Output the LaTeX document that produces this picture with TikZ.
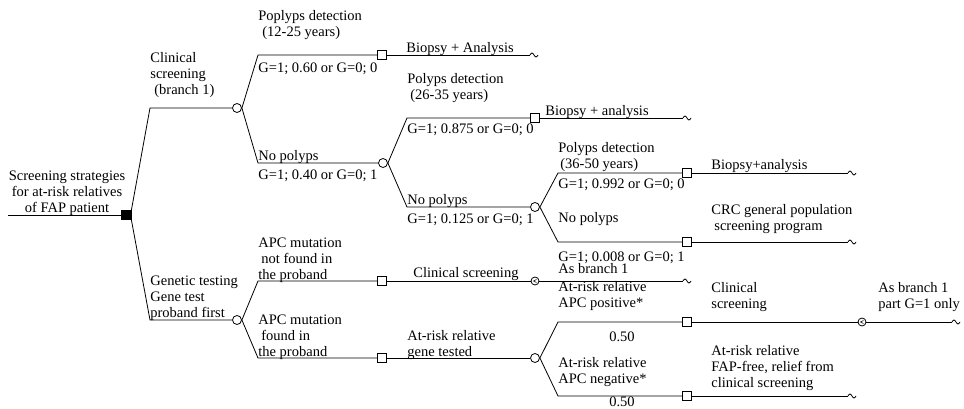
\documentclass[tikz,border=0pt]{standalone}
\usepackage{fontspec}
\setmainfont{Liberation Serif}
\newcommand\myst{\rule{0pt}{10.5pt}}
\begin{document}
\begin{tikzpicture}[x=1pt,y=-1pt, line width=0.8pt,
  lbl/.style={inner sep=0pt, font=\fontsize{14.5}{16}\selectfont, align=left, anchor=north west},
  chance/.style={circle, draw, fill=white, inner sep=0pt, minimum size=9pt},
  decis/.style={rectangle, draw, fill=white, inner sep=0pt, minimum size=9pt},
  rootsq/.style={rectangle, draw, fill=black, inner sep=0pt, minimum width=10pt, minimum height=9pt},
  term/.style={circle, draw, fill=white, inner sep=0pt, minimum size=8pt}]
\useasboundingbox (0,0) rectangle (964,409);
\newcommand\tld[1]{\draw (#1) sin ++(2,-2) cos ++(2,2) sin ++(2,2) cos ++(2,-2);}

% ---------- nodes ----------
\coordinate (start) at (8,215);
\node[rootsq] (root) at (126,215) {};
\coordinate (k1) at (150,108);
\coordinate (k2) at (150,320);
\node[chance] (c1) at (237,108) {};
\coordinate (k11) at (258,55);
\coordinate (k12) at (258,163);
\node[decis] (s1) at (382,55) {};
\coordinate (e1) at (530,55);
\node[chance] (c2) at (383,163) {};
\coordinate (k21) at (407,118);
\coordinate (k22) at (407,207);
\node[decis] (s2) at (535,118) {};
\coordinate (e2) at (683,118);
\node[chance] (c3) at (535,207) {};
\coordinate (k31) at (558,173);
\coordinate (k32) at (558,242);
\node[decis] (s3) at (687,173) {};
\coordinate (e3) at (848,173);
\node[decis] (s4) at (687,242) {};
\coordinate (e4) at (848,242);

\node[chance] (g1) at (237,320) {};
\coordinate (k41) at (258,281);
\coordinate (k42) at (258,358);
\node[decis] (s5) at (382,281) {};
\node[term] (t1) at (535,281) {};
\coordinate (e5) at (683,281);
\node[decis] (s6) at (382,358) {};
\node[chance] (c4) at (535,358) {};
\coordinate (k51) at (558,322);
\coordinate (k52) at (558,396);
\node[decis] (s7) at (687,322) {};
\node[term] (t2) at (862,322) {};
\coordinate (e6) at (952,322);
\node[decis] (s8) at (687,396) {};
\coordinate (e7) at (848,396);

% ---------- connectors ----------
\draw (start) -- (root.west);
\draw (root.north east) -- (k1) -- (c1.west);
\draw (root.south east) -- (k2) -- (g1.west);
\draw (c1.east) -- (k11) -- (s1.west);
\draw (s1.east) -- (e1); \tld{e1}
\draw (c1.east) -- (k12) -- (c2.west);
\draw (c2.east) -- (k21) -- (s2.west);
\draw (s2.east) -- (e2); \tld{e2}
\draw (c2.east) -- (k22) -- (c3.west);
\draw (c3.east) -- (k31) -- (s3.west);
\draw (s3.east) -- (e3); \tld{e3}
\draw (c3.east) -- (k32) -- (s4.west);
\draw (s4.east) -- (e4); \tld{e4}
\draw (g1.east) -- (k41) -- (s5.west);
\draw (s5.east) -- (t1.west);
\draw (t1.east) -- (e5); \tld{e5}
\draw (g1.east) -- (k42) -- (s6.west);
\draw (s6.east) -- (c4.west);
\draw (c4.east) -- (k51) -- (s7.west);
\draw (s7.east) -- (t2.west);
\draw (t2.east) -- (e6); \tld{e6}
\draw (c4.east) -- (k52) -- (s8.west);
\draw (s8.east) -- (e7); \tld{e7}
% marks inside terminal circles
\draw[line width=0.5pt] ([xshift=1.5pt,yshift=1.5pt]t1.center) -- ([xshift=-1.5pt]t1.center) -- ([xshift=1.5pt,yshift=-1.5pt]t1.center);
\draw[line width=0.5pt] ([xshift=1.5pt,yshift=1.5pt]t2.center) -- ([xshift=-1.5pt]t2.center) -- ([xshift=1.5pt,yshift=-1.5pt]t2.center);

% ---------- labels ----------
\node[lbl, anchor=north, align=center] (tA) at (67,169.5) {\myst Screening strategies\\for at-risk relatives\\of FAP patient};
\node[lbl] (tB) at (150,51.5) {\myst Clinical\\screening\\\hspace*{4pt}(branch 1)};
\node[lbl] (tC) at (258,9.5) {\myst Poplyps detection\\\hspace*{4pt}(12-25 years)};
\node[lbl] (tD) at (258,61.5) {\myst G=1; 0.60 or G=0; 0};
\node[lbl] (tE) at (406,41.5) {\myst Biopsy + Analysis};
\node[lbl] (tF) at (258,149.5) {\myst No polyps};
\node[lbl] (tG) at (258,168.5) {\myst G=1; 0.40 or G=0; 1};
\node[lbl] (tH) at (407,73) {\myst Polyps detection\\\hspace*{3pt}(26-35 years)};
\node[lbl] (tI) at (407,123) {\myst G=1; 0.875 or G=0; 0};
\node[lbl] (tJ) at (545,104.5) {\myst Biopsy + analysis};
\node[lbl] (tF2) at (407,194) {\myst No polyps};
\node[lbl] (tG2) at (407,212.5) {\myst G=1; 0.125 or G=0; 1};
\node[lbl] (tK) at (558,141.5) {\myst Polyps detection\\\hspace*{2pt}(36-50 years)};
\node[lbl] (tL) at (558,178) {\myst G=1; 0.992 or G=0; 0};
\node[lbl] (tM) at (711,158.5) {\myst Biopsy+analysis};
\node[lbl] (tN) at (558,212) {\myst No polyps};
\node[lbl] (tO) at (558,250.5) {\myst G=1; 0.008 or G=0; 1};
\node[lbl] (tP) at (711,204) {\myst CRC general population\\\hspace*{3pt}screening program};
\node[lbl] (tQ) at (258,236.5) {\myst APC mutation\\\hspace*{3pt}not found in\\the proband};
\node[lbl] (tR) at (150,275) {\myst Genetic testing\\Gene test\\proband first};
\node[lbl] (tS) at (258,314) {\myst APC mutation\\\hspace*{3pt}found in\\the proband};
\node[lbl] (tT) at (413,267) {\myst Clinical screening};
\node[lbl] (tU) at (558,263) {\myst As branch 1};
\node[lbl] (tV) at (407,329.5) {\myst At-risk relative\\gene tested};
\node[lbl] (tW) at (558,280.5) {\myst At-risk relative\\APC positive*};
\node[lbl, anchor=north] (tX) at (622,331) {\myst 0.50};
\node[lbl] (tY) at (711,281.5) {\myst Clinical\\screening};
\node[lbl] (tZ) at (878,281.5) {\myst As branch 1\\part G=1 only};
\node[lbl] (tAA) at (558,357) {\myst At-risk relative\\APC negative*};
\node[lbl, anchor=north] (tAB) at (622,395.5) {\myst 0.50};
\node[lbl] (tAC) at (711,344.5) {\myst At-risk relative\\FAP-free, relief from\\clinical screening};
\end{tikzpicture}
\end{document}
